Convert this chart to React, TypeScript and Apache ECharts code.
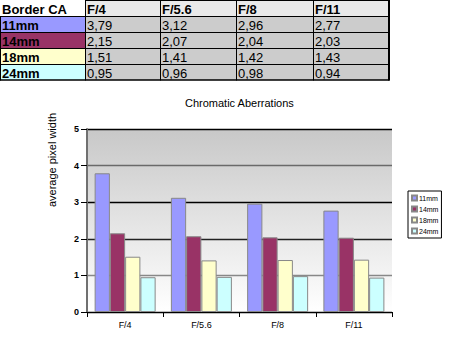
import React, { useEffect, useRef } from "react";
import * as echarts from "echarts";

const apertures = ["F/4", "F/5.6", "F/8", "F/11"];
const lenses = ["11mm", "14mm", "18mm", "24mm"];
const lensColors = ["#9999ff", "#993366", "#ffffcc", "#ccffff"];
const v11 = [3.79, 3.12, 2.96, 2.77];
const v14 = [2.15, 2.07, 2.04, 2.03];
const v18 = [1.51, 1.41, 1.42, 1.43];
const v24 = [0.95, 0.96, 0.98, 0.94];
const seriesValues = [v11, v14, v18, v24];
const yTicks = [0, 1, 2, 3, 4, 5];
const tableTitle = "Border CA";
const chartTitle = "Chromatic Aberrations";
const yAxisName = "average pixel width";

const FONT = "'Liberation Sans', Arial, sans-serif";

function fmt(v: number) {
  return v.toFixed(2).replace(".", ",");
}

function buildTable() {
  const colX = [0, 85, 160, 236, 313, 388];
  const rowY = [0, 16, 32, 48, 64, 80];
  const els: any[] = [];
  for (let c = 1; c <= 4; c++) {
    els.push({
      type: "rect",
      shape: { x: colX[c], y: rowY[0], width: colX[c + 1] - colX[c], height: 16 },
      style: { fill: "#e9e9e9" },
      silent: true,
    });
  }
  for (let r = 0; r < 4; r++) {
    els.push({
      type: "rect",
      shape: { x: 0, y: rowY[r + 1], width: 85, height: 16 },
      style: { fill: lensColors[r] },
      silent: true,
    });
    for (let c = 1; c <= 4; c++) {
      els.push({
        type: "rect",
        shape: { x: colX[c], y: rowY[r + 1], width: colX[c + 1] - colX[c], height: 16 },
        style: { fill: "#cccccc" },
        silent: true,
      });
    }
  }
  const line = (x1: number, y1: number, x2: number, y2: number, w = 1) => ({
    type: "line",
    shape: { x1, y1, x2, y2 },
    style: { stroke: "#000", lineWidth: w },
    silent: true,
  });
  els.push(line(85, 0.5, 389, 0.5));
  for (let r = 1; r <= 5; r++) {
    const y = r === 5 ? 80 : rowY[r] + 0.5;
    els.push(line(0, y, 389.5, y, r === 5 ? 1.5 : 1));
  }
  els.push(line(0.5, 16, 0.5, 80.5));
  for (let c = 1; c <= 4; c++) {
    els.push(line(colX[c] + 0.5, 0, colX[c] + 0.5, 80.5));
  }
  els.push(line(389, 0, 389, 80.5, 2));
  const txt = (s: string, x: number, y: number, bold: boolean) => ({
    type: "text",
    x,
    y,
    style: {
      text: s,
      fill: "#000",
      font: `${bold ? "bold " : ""}13px ${FONT}`,
      textAlign: "left",
      textVerticalAlign: "middle",
    },
    silent: true,
  });
  els.push(txt(tableTitle, 2, 9, true));
  apertures.forEach((a, c) => els.push(txt(a, colX[c + 1] + 2, 9, true)));
  lenses.forEach((l, r) => {
    els.push(txt(l, 2, rowY[r + 1] + 9, true));
    seriesValues[r].forEach((v, c) => els.push(txt(fmt(v), colX[c + 1] + 2, rowY[r + 1] + 9, false)));
  });
  return els;
}

export default function App() {
  const ref = useRef<HTMLDivElement>(null);
  useEffect(() => {
    document.body.style.margin = "0";
    const chart = echarts.init(ref.current!, null, { renderer: "svg" });
    chart.setOption({
      animation: false,
      backgroundColor: "#fff",
      title: {
        text: chartTitle,
        left: 185,
        top: 97,
        textStyle: { fontFamily: FONT, fontSize: 11, fontWeight: "normal", color: "#000" },
        padding: 0,
      },
      legend: {
        orient: "vertical",
        left: 408,
        top: 191,
        data: lenses,
        icon: "rect",
        itemWidth: 5,
        itemHeight: 5,
        itemGap: 3,
        borderColor: "#000",
        borderWidth: 1,
        padding: [3, 3, 3, 3],
        textStyle: { fontFamily: FONT, fontSize: 7, color: "#000", lineHeight: 8, padding: [0, 0, 0, -3] },
      },
      grid: {
        left: 87,
        right: 61,
        top: 129,
        bottom: 31,
        show: true,
        borderWidth: 0,
        backgroundColor: new echarts.graphic.LinearGradient(0, 0, 0, 1, [
          { offset: 0, color: "#c8c8c8" },
          { offset: 1, color: "#ffffff" },
        ]),
      },
      xAxis: {
        type: "category",
        data: apertures,
        axisLine: { lineStyle: { color: "#000", width: 1 } },
        axisTick: { show: true, length: 5, lineStyle: { color: "#000" } },
        axisLabel: { fontFamily: FONT, fontSize: 9, color: "#000", margin: 8 },
      },
      yAxis: {
        type: "value",
        min: yTicks[0],
        max: yTicks[yTicks.length - 1],
        interval: 1,
        axisLine: { show: true, lineStyle: { color: "#707070", width: 2 } },
        axisTick: { show: true, length: 6, lineStyle: { color: "#000" } },
        axisLabel: { fontFamily: FONT, fontSize: 9, color: "#000", margin: 8, fontWeight: "bold" },
        splitLine: {
          show: true,
          lineStyle: { color: ["#000", "#888", "#222", "#000", "#6a6a6a", "#000"], width: 1.3 },
        },
      },
      graphic: [
        ...buildTable(),
        {
          type: "text",
          x: 52,
          y: 160,
          rotation: Math.PI / 2,
          style: {
            text: yAxisName,
            fill: "#000",
            font: `11px ${FONT}`,
            textAlign: "center",
            textVerticalAlign: "middle",
          },
          silent: true,
        },
      ],
      series: lenses.map((name, i) => ({
        name,
        type: "bar",
        data: seriesValues[i],
        barGap: "0%",
        barCategoryGap: "20%",
        itemStyle: { color: lensColors[i], borderColor: "#888", borderWidth: 1 },
      })),
    });
    return () => chart.dispose();
  }, []);
  return <div ref={ref} style={{ position: "absolute", left: 0, top: 0, width: 453, height: 343 }} />;
}
